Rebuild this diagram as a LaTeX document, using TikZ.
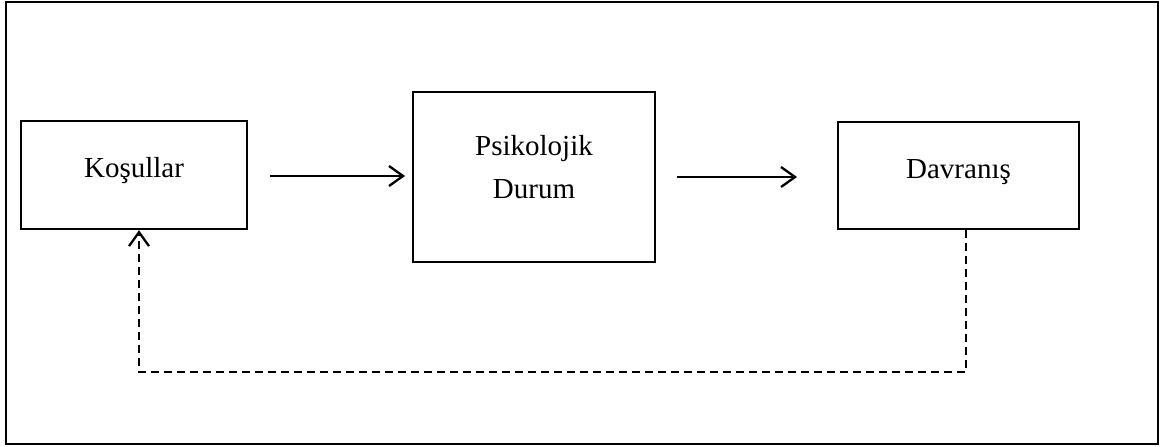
\documentclass[tikz,border=0pt]{standalone}
\usepackage{fontspec}
\setmainfont{Liberation Serif}
\usetikzlibrary{arrows.meta}
\tikzset{
  box/.style={draw, line width=2.3pt, rectangle, inner sep=0pt},
  lbl/.style={anchor=base, inner sep=0pt, font=\fontsize{29}{43}\selectfont},
  flow/.style={line width=2.3pt, -{Straight Barb[length=14pt,width=20pt,line width=2.3pt]}},
  back/.style={flow, dash pattern=on 8pt off 5pt},
}
\begin{document}
\begin{tikzpicture}[x=1pt,y=-1pt]
  \useasboundingbox (0,0) rectangle (1162,447);
  % outer frame
  \node[box, minimum width=1152pt, minimum height=442pt] (frame) at (582,223) {};

  % the three stages
  \node[box, minimum width=226pt, minimum height=108pt] (kos) at (134,175) {};
  \node[lbl] (koslbl) at (134,177) {Koşullar};

  \node[box, minimum width=242pt, minimum height=170pt] (psi) at (534,177) {};
  \node[lbl] (psilbl1) at (534,155) {Psikolojik};
  \node[lbl] (psilbl2) at (534,198) {Durum};

  \node[box, minimum width=241pt, minimum height=107pt] (dav) at (958.5,175.5) {};
  \node[lbl] (davlbl) at (958.5,178) {Davranış};

  % forward arrows
  \coordinate (a1s) at (270,176);
  \coordinate (a1e) at (405,176);
  \coordinate (a2s) at (677,177);
  \coordinate (a2e) at (797,177);
  \draw[flow] (a1s) -- (a1e);
  \draw[flow] (a2s) -- (a2e);

  % dashed feedback loop
  \coordinate (fbR) at (966,372);
  \coordinate (fbL) at (139,372);
  \draw[back] (fbR |- dav.south) -- (fbR) -- (fbL) -- (fbL |- kos.south);
\end{tikzpicture}
\end{document}
